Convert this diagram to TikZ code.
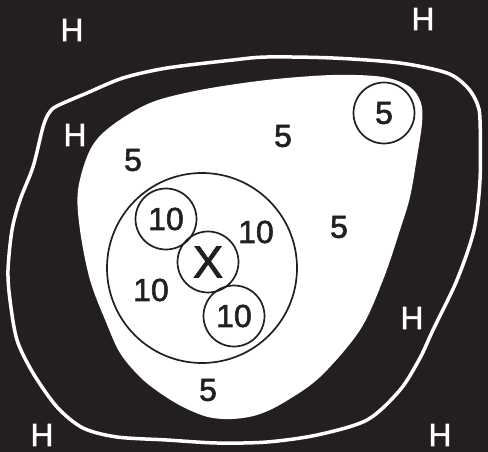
\documentclass[tikz,border=0pt]{standalone}
\usepackage{fontspec}
\setmainfont{Liberation Sans}[FakeBold=1.8]
\definecolor{bg}{HTML}{231F20}
\begin{document}
\begin{tikzpicture}[x=1bp,y=-1bp,
  lbl/.style={font=\fontsize{32}{34}\selectfont, text=bg, inner sep=0pt},
  hlbl/.style={font=\fontsize{32}{34}\selectfont, text=white, inner sep=0pt},
  ring/.style={draw=bg, line width=1.7bp, circle, inner sep=0pt}]
\fill[bg] (0,0) rectangle (488,452);
\useasboundingbox (0,0) rectangle (488,452);
% outer white loop
\draw[white, line width=3.5bp] plot[smooth cycle, tension=0.5] coordinates {
 (57,106) (87,93) (123,78) (167,68) (233,60) (267,57) (333,58) (400,63) (447,73)
 (467,87) (477,103) (480,120) (480,180) (474,230) (457,280) (433,330) (420,358)
 (400,390) (367,420) (317,435) (267,442) (217,443) (167,440) (117,437) (83,428)
 (57,407) (33,373) (17,340) (10,300) (8,270) (12,230) (20,200) (33,167) (43,127) (49,113)};
% inner white blob
\fill[white] plot[smooth cycle, tension=0.55] coordinates {
 (78,190) (90,150) (110,127) (150,103) (200,90) (267,80) (333,75) (383,77) (410,87)
 (421,103) (422,123) (417,157) (410,197) (400,230) (383,280) (360,330) (320,377)
 (283,403) (257,415) (232,419) (208,417) (183,407) (160,393) (140,377) (120,353)
 (106,322) (90,280) (80,230)};
% circles
\node[ring, minimum size=190bp] (big) at (202,268) {};
\node[ring, minimum size=61bp, lbl] (x) at (208,262) {\fontsize{45}{47}\selectfont X};
\node[ring, minimum size=61bp, lbl] (t10) at (166,219) {10};
\node[ring, minimum size=61bp, lbl] (b10) at (234,316) {10};
\node[ring, minimum size=61bp, lbl] (c5) at (384,113) {5};
% labels
\node[lbl] (f1) at (133,160) {5};
\node[lbl] (f2) at (283,136) {5};
\node[lbl] (f3) at (339,227) {5};
\node[lbl] (f4) at (208,390) {5};
\node[lbl] (n1) at (256,232) {10};
\node[lbl] (n2) at (151,290) {10};
\node[hlbl] (h1) at (72,30) {H};
\node[hlbl] (h2) at (423,19) {H};
\node[hlbl] (h3) at (75,135) {H};
\node[hlbl] (h4) at (412,318) {H};
\node[hlbl] (h5) at (42,435) {H};
\node[hlbl] (h6) at (440,435) {H};
\end{tikzpicture}
\end{document}
